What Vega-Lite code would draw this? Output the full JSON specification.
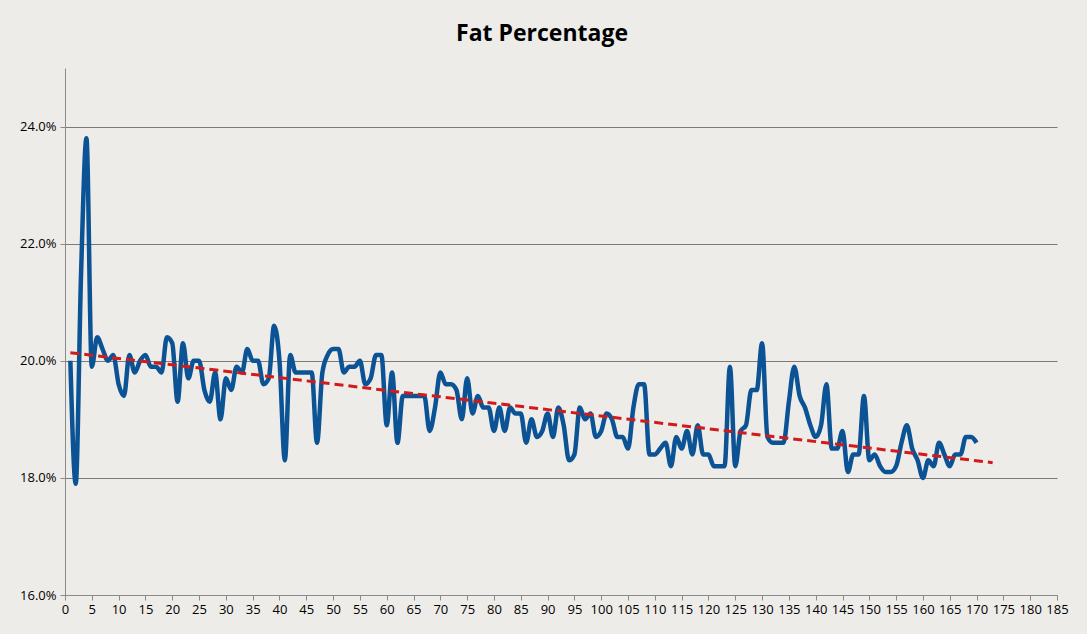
{
  "$schema": "https://vega.github.io/schema/vega-lite/v6.json",
  "width": 992,
  "height": 527,
  "autosize": {"type": "none"},
  "padding": {"left": 65, "top": 68, "right": 30, "bottom": 39},
  "background": "#eeece9",
  "title": {"text": "Fat Percentage", "fontSize": 23, "font": "Open Sans", "fontWeight": "bold", "color": "#000", "offset": 22, "dx": -19},
  "data": {"values": [
    {"n":1,"fat":20.0},{"n":2,"fat":17.9},{"n":3,"fat":21.5},{"n":4,"fat":23.8},{"n":5,"fat":19.9},{"n":6,"fat":20.4},{"n":7,"fat":20.2},{"n":8,"fat":20.0},{"n":9,"fat":20.1},{"n":10,"fat":19.6},
    {"n":11,"fat":19.4},{"n":12,"fat":20.1},{"n":13,"fat":19.8},{"n":14,"fat":20.0},{"n":15,"fat":20.1},{"n":16,"fat":19.9},{"n":17,"fat":19.9},{"n":18,"fat":19.8},{"n":19,"fat":20.4},{"n":20,"fat":20.3},
    {"n":21,"fat":19.3},{"n":22,"fat":20.3},{"n":23,"fat":19.7},{"n":24,"fat":20.0},{"n":25,"fat":20.0},{"n":26,"fat":19.5},{"n":27,"fat":19.3},{"n":28,"fat":19.8},{"n":29,"fat":19.0},{"n":30,"fat":19.7},
    {"n":31,"fat":19.5},{"n":32,"fat":19.9},{"n":33,"fat":19.8},{"n":34,"fat":20.2},{"n":35,"fat":20.0},{"n":36,"fat":20.0},{"n":37,"fat":19.6},{"n":38,"fat":19.7},{"n":39,"fat":20.6},{"n":40,"fat":20.0},
    {"n":41,"fat":18.3},{"n":42,"fat":20.1},{"n":43,"fat":19.8},{"n":44,"fat":19.8},{"n":45,"fat":19.8},{"n":46,"fat":19.8},{"n":47,"fat":18.6},{"n":48,"fat":19.8},{"n":49,"fat":20.1},{"n":50,"fat":20.2},
    {"n":51,"fat":20.2},{"n":52,"fat":19.8},{"n":53,"fat":19.9},{"n":54,"fat":19.9},{"n":55,"fat":20.0},{"n":56,"fat":19.6},{"n":57,"fat":19.7},{"n":58,"fat":20.1},{"n":59,"fat":20.1},{"n":60,"fat":18.9},
    {"n":61,"fat":19.8},{"n":62,"fat":18.6},{"n":63,"fat":19.4},{"n":64,"fat":19.4},{"n":65,"fat":19.4},{"n":66,"fat":19.4},{"n":67,"fat":19.4},{"n":68,"fat":18.8},{"n":69,"fat":19.2},{"n":70,"fat":19.8},
    {"n":71,"fat":19.6},{"n":72,"fat":19.6},{"n":73,"fat":19.5},{"n":74,"fat":19.0},{"n":75,"fat":19.7},{"n":76,"fat":19.1},{"n":77,"fat":19.4},{"n":78,"fat":19.2},{"n":79,"fat":19.2},{"n":80,"fat":18.8},
    {"n":81,"fat":19.2},{"n":82,"fat":18.8},{"n":83,"fat":19.2},{"n":84,"fat":19.1},{"n":85,"fat":19.1},{"n":86,"fat":18.6},{"n":87,"fat":19.0},{"n":88,"fat":18.7},{"n":89,"fat":18.8},{"n":90,"fat":19.1},
    {"n":91,"fat":18.7},{"n":92,"fat":19.2},{"n":93,"fat":18.9},{"n":94,"fat":18.3},{"n":95,"fat":18.4},{"n":96,"fat":19.2},{"n":97,"fat":19.0},{"n":98,"fat":19.1},{"n":99,"fat":18.7},{"n":100,"fat":18.8},
    {"n":101,"fat":19.1},{"n":102,"fat":19.0},{"n":103,"fat":18.7},{"n":104,"fat":18.7},{"n":105,"fat":18.5},{"n":106,"fat":19.2},{"n":107,"fat":19.6},{"n":108,"fat":19.6},{"n":109,"fat":18.4},{"n":110,"fat":18.4},
    {"n":111,"fat":18.5},{"n":112,"fat":18.6},{"n":113,"fat":18.2},{"n":114,"fat":18.7},{"n":115,"fat":18.5},{"n":116,"fat":18.8},{"n":117,"fat":18.4},{"n":118,"fat":18.9},{"n":119,"fat":18.4},{"n":120,"fat":18.4},
    {"n":121,"fat":18.2},{"n":122,"fat":18.2},{"n":123,"fat":18.2},{"n":124,"fat":19.9},{"n":125,"fat":18.2},{"n":126,"fat":18.8},{"n":127,"fat":18.9},{"n":128,"fat":19.5},{"n":129,"fat":19.5},{"n":130,"fat":20.3},
    {"n":131,"fat":18.7},{"n":132,"fat":18.6},{"n":133,"fat":18.6},{"n":134,"fat":18.6},{"n":135,"fat":19.3},{"n":136,"fat":19.9},{"n":137,"fat":19.4},{"n":138,"fat":19.2},{"n":139,"fat":18.9},{"n":140,"fat":18.7},
    {"n":141,"fat":18.9},{"n":142,"fat":19.6},{"n":143,"fat":18.5},{"n":144,"fat":18.5},{"n":145,"fat":18.8},{"n":146,"fat":18.1},{"n":147,"fat":18.4},{"n":148,"fat":18.4},{"n":149,"fat":19.4},{"n":150,"fat":18.3},
    {"n":151,"fat":18.4},{"n":152,"fat":18.2},{"n":153,"fat":18.1},{"n":154,"fat":18.1},{"n":155,"fat":18.2},{"n":156,"fat":18.6},{"n":157,"fat":18.9},{"n":158,"fat":18.5},{"n":159,"fat":18.3},{"n":160,"fat":18.0},
    {"n":161,"fat":18.3},{"n":162,"fat":18.2},{"n":163,"fat":18.6},{"n":164,"fat":18.4},{"n":165,"fat":18.2},{"n":166,"fat":18.4},{"n":167,"fat":18.4},{"n":168,"fat":18.7},{"n":169,"fat":18.7},{"n":170,"fat":18.6}
  ]},
  "encoding": {
    "x": {"field": "n", "type": "quantitative", "title": null,
      "scale": {"domain": [0, 185], "nice": false},
      "axis": {"values": [0,5,10,15,20,25,30,35,40,45,50,55,60,65,70,75,80,85,90,95,100,105,110,115,120,125,130,135,140,145,150,155,160,165,170,175,180,185],
        "grid": false, "labelFontSize": 13, "labelColor": "#000", "domainColor": "#8a8a8a", "tickColor": "#8a8a8a", "tickSize": 5, "labelPadding": 3, "labelFlush": false, "labelOverlap": false}},
    "y": {"field": "fat", "type": "quantitative", "title": null,
      "scale": {"domain": [16, 25], "nice": false, "zero": false},
      "axis": {"values": [16,18,20,22,24], "labelExpr": "format(datum.value, '.1f') + '%'",
        "grid": true, "gridColor": "#7a7a7a", "labelFontSize": 13, "labelColor": "#000", "domainColor": "#8a8a8a", "tickColor": "#8a8a8a", "tickSize": 5, "labelPadding": 4}}
  },
  "layer": [
    {"mark": {"type": "line", "interpolate": "monotone", "color": "#0b5394", "strokeWidth": 4.5}},
    {"mark": {"type": "line", "color": "#d11a1a", "strokeWidth": 3, "strokeDash": [9, 5]},
      "transform": [{"regression": "fat", "on": "n", "extent": [1, 173]}]}
  ],
  "config": {"font": "Open Sans", "view": {"stroke": null}}
}
